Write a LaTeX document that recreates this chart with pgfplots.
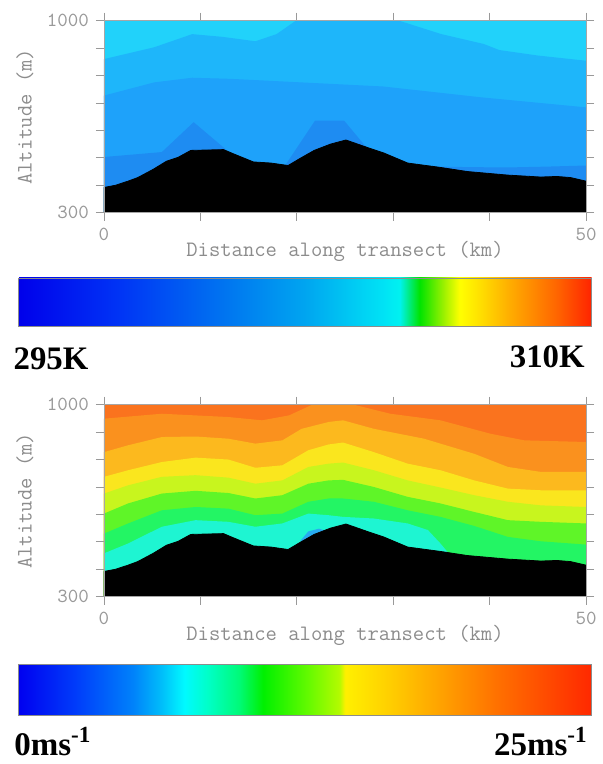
\documentclass[border=0pt]{standalone}
\usepackage{pgfplots}
\pgfplotsset{compat=1.18}
\usepackage{pgfplotstable}
\usetikzlibrary{calc}
\usepackage{fontspec}
\newfontfamily\lbl{Liberation Serif}

\definecolor{ta}{RGB}{33,210,250}
\definecolor{tb}{RGB}{30,182,250}
\definecolor{tc}{RGB}{30,162,250}
\definecolor{td}{RGB}{30,140,242}
\definecolor{wa}{RGB}{250,115,30}
\definecolor{wb}{RGB}{250,145,30}
\definecolor{wc}{RGB}{252,185,30}
\definecolor{wd}{RGB}{250,230,30}
\definecolor{we}{RGB}{200,245,30}
\definecolor{wf}{RGB}{95,245,40}
\definecolor{wg}{RGB}{35,245,100}
\definecolor{wh}{RGB}{30,245,210}
\definecolor{wi}{RGB}{40,170,240}

\pgfplotsset{
  colormap={temp}{rgb255(0cm)=(0,0,235); rgb255(1.7cm)=(0,50,245); rgb255(3.7cm)=(0,120,240);
    rgb255(5cm)=(0,165,240); rgb255(6.4cm)=(0,228,245); rgb255(6.65cm)=(0,242,240);
    rgb255(7cm)=(0,228,0); rgb255(7.4cm)=(150,240,0); rgb255(7.7cm)=(255,255,0);
    rgb255(8cm)=(255,228,0); rgb255(8.6cm)=(255,170,0); rgb255(9.4cm)=(255,100,0);
    rgb255(10cm)=(255,35,0)},
  colormap={wind}{rgb255(0cm)=(0,0,240); rgb255(1cm)=(0,60,250); rgb255(2cm)=(0,130,250);
    rgb255(2.5cm)=(0,190,250); rgb255(2.9cm)=(0,250,255); rgb255(3.3cm)=(0,255,200);
    rgb255(3.85cm)=(0,250,120); rgb255(4.27cm)=(0,240,0); rgb255(5.05cm)=(100,250,0);
    rgb255(5.6cm)=(180,250,0); rgb255(5.7cm)=(255,240,0); rgb255(6.4cm)=(255,210,0);
    rgb255(7.4cm)=(255,160,0); rgb255(8.4cm)=(255,110,0); rgb255(10cm)=(255,40,0)},
  transect/.style={
    scale only axis, width=241pt, height=96pt, anchor=south west,
    xmin=0, xmax=50, ymin=300, ymax=1000,
    xtick={0,10,20,30,40,50}, xticklabels={0,,,,,50},
    ytick={300,400,500,600,700,800,900,1000}, yticklabels={300,,,,,,,1000},
    tick align=outside, major tick length=4pt,
    tick style={black!40, line width=0.4pt},
    axis line style={black!35, line width=0.4pt},
    every tick label/.append style={font=\ttfamily\fontsize{10}{12}\selectfont, text=black!40},
    xlabel={Distance along transect (km)}, ylabel={Altitude (m)},
    xlabel style={font=\ttfamily\fontsize{11}{13}\selectfont, text=black!45,
      at={(axis description cs:0.5,-0.2)}, anchor=center},
    ylabel style={font=\ttfamily\fontsize{11}{13}\selectfont, text=black!45,
      at={(axis description cs:-0.164,0.5)}, anchor=center},
    axis on top, colorbar horizontal,
  },
  band/.style={draw=none, fill=#1},
}

\pgfplotstableread{
x y
0 392
1.2 400
2.5 415
3.5 428
5.1 458
6.5 488
7.7 502
9.0 527
12.4 530
13.4 515
15.5 485
17.3 481
19.1 472
20.2 495
21.8 527
23.5 550
25.1 565
27.3 538
29.0 518
31.5 481
34.9 465
37.7 450
41.9 437
45.3 430
47.0 432
48.4 428
50 415
}\terrain

\begin{document}
\begin{tikzpicture}
\path[use as bounding box] (0,0) rectangle (301pt,382pt);

% ---------- potential temperature ----------
\begin{axis}[transect, at={(52pt,275.65pt)},
  colormap name=temp, point meta min=295, point meta max=310,
  colorbar/width=24.2pt,
  colorbar style={at={($(parent axis.south west)+(-42.85pt,-24.1pt)$)}, anchor=north west,
    scale only axis, width=286.7pt, height=24.2pt, xtick=\empty, ytick=\empty,
    axis line style={black!45, line width=0.4pt}}]
\addplot[band=ta] coordinates {(0,1000) (50,1000)} \closedcycle;
\addplot[band=tb] coordinates {(0,860) (5.2,903) (9.15,951) (12.3,941) (15.7,925) (17.9,951)
  (19.9,1000) (21,1015) (29.5,1015) (30.6,1000) (35,951) (39.4,915) (41,893) (45,873) (50,854)} \closedcycle;
\addplot[band=tc] coordinates {(0,727) (5.2,775) (9.15,792) (13.1,788) (19.9,776) (29,760)
  (39,721) (50,684)} \closedcycle;
\addplot[band=td] coordinates {(0,503) (6.0,521) (9.3,630) (12.6,532) (13.5,440) (18.5,440)
  (18.9,478) (21.9,636) (24.9,636) (27.2,539) (28,440) (31,440) (32,470) (38,466) (42,465)
  (46,468) (50,472)} \closedcycle;
\addplot[fill=black, draw=black] table {\terrain} \closedcycle;
\end{axis}

% ---------- wind speed ----------
\begin{axis}[transect, at={(52pt,83.65pt)},
  colormap name=wind, point meta min=0, point meta max=25,
  colorbar/width=25.5pt,
  colorbar style={at={($(parent axis.south west)+(-42.85pt,-25.2pt)$)}, anchor=north west,
    scale only axis, width=286.7pt, height=25.5pt, xtick=\empty, ytick=\empty,
    axis line style={black!45, line width=0.4pt}}]
\addplot[band=wa] coordinates {(0,1000) (50,1000)} \closedcycle;
\addplot[band=wb] coordinates {(0,949) (6.0,967) (12.9,955) (16.4,943) (19.2,961) (21.6,1000)
  (22.5,1012) (25,1012) (25.9,1000) (29.7,967) (34.9,943) (40.1,894) (43.6,870) (50,864)} \closedcycle;
\addplot[band=wc] coordinates {(0,827) (2.5,852) (6.0,882) (9.5,884) (12.9,876) (15.7,858)
  (18.5,870) (20.5,912) (23.3,937) (24.8,943) (28.0,912) (33.2,876) (38.4,821) (41.9,773)
  (45.3,755) (50,755)} \closedcycle;
\addplot[band=wd] coordinates {(0,737) (2.5,761) (6.0,791) (9.5,807) (12.9,800) (15.7,770)
  (18.5,779) (21.2,834) (23.3,855) (24.8,862) (28.0,827) (31.5,785) (34.9,761) (38.4,724)
  (41.9,694) (45.3,688) (50,688)} \closedcycle;
\addplot[band=we] coordinates {(0,676) (2.5,706) (6.0,737) (9.5,743) (12.9,734) (15.7,712)
  (18.5,724) (21.2,773) (23.3,785) (24.8,789) (28.0,761) (31.5,724) (34.9,698) (38.4,670)
  (41.9,646) (45.3,633) (50,627)} \closedcycle;
\addplot[band=wf] coordinates {(0,603) (2.5,640) (6.0,676) (9.5,686) (12.9,678) (15.7,658)
  (18.5,670) (21.2,712) (23.3,724) (24.8,726) (28.0,700) (31.5,664) (34.9,640) (38.4,609)
  (41.9,579) (45.3,573) (50,567)} \closedcycle;
\addplot[band=wg] coordinates {(0,530) (2.5,567) (6.0,615) (9.5,627) (12.9,621) (15.7,597)
  (18.5,603) (21.2,646) (23.3,658) (24.8,658) (28.0,646) (31.5,615) (34.9,591) (38.4,558)
  (41.9,518) (45.3,502) (50,490)} \closedcycle;
\addplot[band=wh] coordinates {(0,458) (2.5,494) (6.0,555) (9.5,579) (12.9,573) (15.7,555)
  (18.5,567) (21.2,603) (23.3,597) (24.8,591) (28.0,585) (31.5,567) (33.6,543) (34.9,494)
  (35.9,452) (36.5,400) (50,400)} \closedcycle;
\addplot[band=wi] coordinates {(20.4,505) (21.2,538) (22.3,548) (23.0,540)} \closedcycle;
\addplot[fill=black, draw=black] table {\terrain} \closedcycle;
\end{axis}

\node[anchor=base west, inner sep=0pt] at (6.65pt,197pt) {\lbl\bfseries\fontsize{16.4}{18}\selectfont 295K};
\node[anchor=base east, inner sep=0pt] at (292.5pt,198pt) {\lbl\bfseries\fontsize{16.4}{18}\selectfont 310K};
\node[anchor=base west, inner sep=0pt] at (7pt,4.5pt) {\lbl\bfseries\fontsize{16.5}{19}\selectfont 0ms\textsuperscript{-1}};
\node[anchor=base east, inner sep=0pt] at (294pt,4.5pt) {\lbl\bfseries\fontsize{16.5}{19}\selectfont 25ms\textsuperscript{-1}};
\end{tikzpicture}
\end{document}
